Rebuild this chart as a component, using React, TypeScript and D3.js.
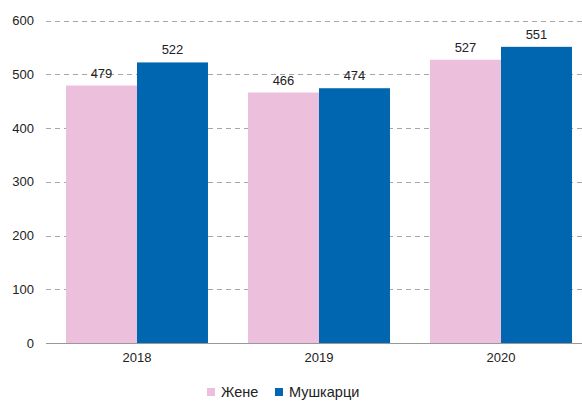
import { useEffect, useRef } from 'react';
import * as d3 from 'd3';

const years = ['2018', '2019', '2020'];
const zene = [479, 466, 527];
const muskarci = [522, 474, 551];
const seriesNames = ['Жене', 'Мушкарци'];
const seriesColors = ['#ecbfdc', '#0066b0'];
const yTicks = [0, 100, 200, 300, 400, 500, 600];

export default function App() {
    const svgRef = useRef<SVGSVGElement>(null);

    useEffect(() => {
        const svg = d3.select(svgRef.current);
        svg.selectAll('*').remove();
        const font = 'Liberation Sans, Arial, sans-serif';

        const x = d3.scaleBand().domain(years).range([46, 592]).paddingInner(0.22).paddingOuter(0.11);
        const y = d3.scaleLinear().domain([0, 600]).range([343, 20.5]);
        const x1 = d3.scaleBand().domain(seriesNames).range([0, x.bandwidth()]);

        // gridlines
        svg.append('g').selectAll('line')
            .data(yTicks.filter(d => d > 0))
            .join('line')
            .attr('x1', 46).attr('x2', 582)
            .attr('y1', d => Math.round(y(d)) + 0.5).attr('y2', d => Math.round(y(d)) + 0.5)
            .attr('stroke', '#a6a6a6')
            .attr('stroke-dasharray', '5,4');

        // y labels
        svg.append('g').selectAll('text')
            .data(yTicks)
            .join('text')
            .attr('x', 34).attr('y', d => y(d))
            .attr('dy', '0.35em')
            .attr('text-anchor', 'end')
            .style('font', `13px ${font}`)
            .attr('fill', '#222')
            .text(d => d);

        const rows = years.map((yr, i) => ({ yr, vals: [zene[i], muskarci[i]] }));
        const groups = svg.append('g').selectAll('g')
            .data(rows)
            .join('g')
            .attr('transform', d => `translate(${x(d.yr)},0)`);

        groups.selectAll('rect')
            .data(d => d.vals.map((v, j) => ({ v, j })))
            .join('rect')
            .attr('x', d => x1(seriesNames[d.j])!)
            .attr('width', x1.bandwidth())
            .attr('y', d => y(d.v))
            .attr('height', d => y(0) - y(d.v))
            .attr('fill', d => seriesColors[d.j]);

        groups.selectAll('text')
            .data(d => d.vals.map((v, j) => ({ v, j })))
            .join('text')
            .attr('x', d => x1(seriesNames[d.j])! + x1.bandwidth() / 2)
            .attr('y', d => y(d.v) - 8)
            .attr('text-anchor', 'middle')
            .style('font', `13px ${font}`)
            .attr('fill', '#222')
            .text(d => d.v);

        // baseline
        svg.append('line')
            .attr('x1', 46).attr('x2', 582)
            .attr('y1', 343.5).attr('y2', 343.5)
            .attr('stroke', '#999');

        // x labels
        svg.append('g').selectAll('text')
            .data(years)
            .join('text')
            .attr('x', d => x(d)! + x.bandwidth() / 2)
            .attr('y', 362)
            .attr('text-anchor', 'middle')
            .style('font', `13px ${font}`)
            .attr('fill', '#222')
            .text(d => d);

        // legend
        const legX = [207, 275];
        const leg = svg.append('g').selectAll('g')
            .data(seriesNames)
            .join('g')
            .attr('transform', (d, i) => `translate(${legX[i]},388)`);
        leg.append('rect').attr('width', 8).attr('height', 8).attr('fill', (d, i) => seriesColors[i]);
        leg.append('text')
            .attr('x', 14).attr('y', 4).attr('dy', '0.35em')
            .style('font', `14.5px ${font}`)
            .attr('fill', '#222')
            .text(d => d);
    }, []);

    return <svg ref={svgRef} width={582} height={401} style={{ position: 'absolute', left: 0, top: 0 }}></svg>;
}
